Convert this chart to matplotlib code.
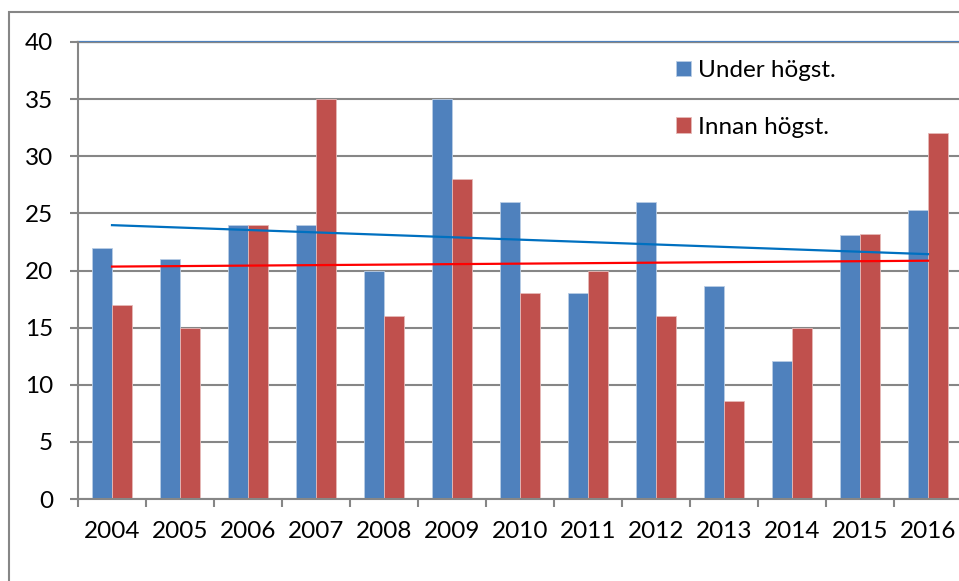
import matplotlib.pyplot as plt
from matplotlib.patches import Rectangle
import numpy as np

plt.rcParams['font.family'] = ['Lato', 'DejaVu Sans']

years = ['2004', '2005', '2006', '2007', '2008', '2009', '2010',
         '2011', '2012', '2013', '2014', '2015', '2016']
under = [22, 21, 24, 24, 20, 35, 26, 18, 26, 18.6, 12.1, 23.1, 25.3]
innan = [17, 15, 24, 35, 16, 28, 18, 20, 16, 8.6, 15, 23.2, 32]
labels = ['Under högst.', 'Innan högst.']

blue = '#4F81BD'
red = '#C0504D'
grey = '#868686'

W, H = 959, 581
fig = plt.figure(figsize=(W / 100, H / 100), dpi=100)
# plot area runs slightly past the right edge, as in the cropped original
ax = fig.add_axes([78 / W, (H - 499) / H, (962 - 78) / W, 457 / H])

x = np.arange(len(years))
bw = 0.29
b1 = ax.bar(x - bw / 2, under, bw, color=blue, edgecolor='#B9CDE5', linewidth=0.6, zorder=2)
b2 = ax.bar(x + bw / 2, innan, bw, color=red, edgecolor='#E6B9B8', linewidth=0.6, zorder=2)

# linear trend lines
for vals, col in [(under, '#0070C0'), (innan, '#FF0000')]:
    k, m = np.polyfit(x, vals, 1)
    ax.plot([x[0], x[-1]], [k * x[0] + m, k * x[-1] + m], color=col, lw=1.6, zorder=3)

ax.set_xlim(-0.5, len(years) - 0.5)
ax.set_ylim(0, 40)
ax.set_yticks(np.arange(0, 41, 5))
ax.set_xticks(x)
ax.set_xticklabels(years)
ax.set_xticks(np.arange(-0.5, len(years), 1), minor=True)

ax.yaxis.grid(True, color=grey, lw=1.5, zorder=0)
ax.axhline(40, color=blue, lw=1.6, zorder=1, clip_on=False)

for s in ['top', 'right']:
    ax.spines[s].set_visible(False)
for s in ['left', 'bottom']:
    ax.spines[s].set_color(grey)
    ax.spines[s].set_linewidth(1.5)

fs = 17.5
ax.tick_params(axis='y', direction='out', length=6, width=1.5, color=grey,
               pad=12, labelsize=fs)
ax.tick_params(axis='x', which='major', length=0, pad=16, labelsize=fs)
ax.tick_params(axis='x', which='minor', direction='out', length=6, width=1.5, color=grey)

leg = ax.legend([b1, b2], labels, loc='upper left',
                bbox_to_anchor=(676 / W, 1 - 60 / H), bbox_transform=fig.transFigure,
                frameon=False, fontsize=fs, borderpad=0, borderaxespad=0,
                handlelength=0.62, handleheight=0.62, handletextpad=0.3,
                labelspacing=1.47)

# outer chart frame
fig.add_artist(Rectangle((9 / W, -0.1), 1.2, 1.1 - 12 / H, transform=fig.transFigure,
                         fill=False, edgecolor=grey, lw=1.5))

fig.savefig('out.png', dpi=100)
